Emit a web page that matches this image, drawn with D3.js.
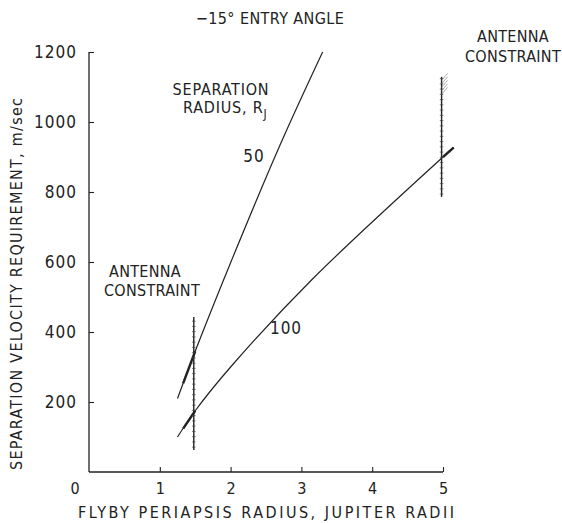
<!DOCTYPE html>
<html>
<head>
<meta charset="utf-8">
<script src="https://cdn.jsdelivr.net/npm/d3@7"></script>
<style>
  html, body { margin: 0; padding: 0; background: #fff; }
  svg { display: block; }
  text { font-family: "DejaVu Sans Condensed", "Liberation Sans Narrow", "Liberation Sans", sans-serif; fill: #222; }
</style>
</head>
<body>
<div id="chart"></div>
<script>
// Separation velocity vs. flyby periapsis radius, -15 deg entry angle
const xTicks = [1, 2, 3, 4, 5];
const yTicks = [200, 400, 600, 800, 1000, 1200];

// separation radius 50 R_J : [periapsis radius, velocity]
const curve50 = [[1.25, 210], [1.5, 345], [2.0, 598], [2.7, 935], [3.3, 1200]];
// separation radius 100 R_J
const curve100 = [[1.25, 100], [1.5, 175], [2.0, 300], [3.15, 550], [5.0, 900], [5.15, 927]];

// heavier portions of each curve near the antenna constraints
const heavy50 = [[1.33, 253], [1.5, 345]];
const heavy100 = [[1.33, 124], [1.5, 175]];
const heavy100b = [[5.0, 900], [5.15, 927]];

// antenna constraint bars: [periapsis radius, low velocity, high velocity]
const constraintLeft = [1.48, 63, 443];
const constraintRight = [4.98, 786, 1129];

const W = 562, H = 523;
const svg = d3.select("#chart").append("svg").attr("width", W).attr("height", H);

const x = d3.scaleLinear().domain([0, 5]).range([89, 443]);
const y = d3.scaleLinear().domain([0, 1200]).range([472, 52]);

const ink = "#222";

// axes
const yAxis = d3.axisLeft(y).tickValues(yTicks).tickSize(-5).tickPadding(12).tickFormat(d3.format("d"));
const gy = svg.append("g").attr("transform", `translate(${x(0)},0)`).call(yAxis);
gy.select(".domain").attr("d", `M0,${y(0)}V${y(1200)}`).attr("stroke", ink).attr("stroke-width", 1.3);
gy.selectAll(".tick line").attr("stroke", ink).attr("stroke-width", 1.1);
gy.selectAll(".tick text").attr("font-size", 17).attr("letter-spacing", 1).attr("fill", ink)
  .style("font-family", "'DejaVu Sans Condensed',sans-serif");

const xAxis = d3.axisBottom(x).tickValues(xTicks).tickSize(-5).tickPadding(11).tickFormat(d3.format("d"));
const gx = svg.append("g").attr("transform", `translate(0,${y(0)})`).call(xAxis);
gx.select(".domain").attr("d", `M${x(0)},0H${x(5)}`).attr("stroke", ink).attr("stroke-width", 1.3);
gx.selectAll(".tick line").attr("stroke", ink).attr("stroke-width", 1.1);
gx.selectAll(".tick text").attr("font-size", 16).attr("fill", ink)
  .style("font-family", "'DejaVu Sans Condensed',sans-serif");

// origin label sits left of the corner
svg.append("text").attr("x", x(0) - 14).attr("y", y(0) + 22).attr("text-anchor", "middle")
  .attr("font-size", 16).text("0");

// curves
const line = d3.line().x(d => x(d[0])).y(d => y(d[1])).curve(d3.curveCatmullRom.alpha(0.5));
svg.append("path").datum(curve50).attr("d", line).attr("fill", "none").attr("stroke", ink).attr("stroke-width", 1.2);
svg.append("path").datum(curve100).attr("d", line).attr("fill", "none").attr("stroke", ink).attr("stroke-width", 1.2);
[heavy50, heavy100, heavy100b].forEach(seg => {
  svg.append("path").datum(seg).attr("d", d3.line().x(d => x(d[0])).y(d => y(d[1])))
    .attr("fill", "none").attr("stroke", ink).attr("stroke-width", 2.4);
});

// antenna constraint bars with fine tick marks
function constraintBar(c, hatchTop) {
  const [cx, lo, hi] = c;
  const g = svg.append("g");
  g.append("line").attr("x1", x(cx)).attr("x2", x(cx)).attr("y1", y(lo)).attr("y2", y(hi))
    .attr("stroke", ink).attr("stroke-width", 1.4);
  const steps = d3.range(lo + 8, hi, 15);
  g.selectAll("line.t").data(steps).join("line").attr("class", "t")
    .attr("x1", x(cx) - 1.8).attr("x2", x(cx) + 1.8)
    .attr("y1", d => y(d)).attr("y2", d => y(d))
    .attr("stroke", "#444").attr("stroke-width", 0.7);
  if (hatchTop) {
    const hs = d3.range(hi - 50, hi, 10);
    g.selectAll("line.h").data(hs).join("line").attr("class", "h")
      .attr("x1", x(cx)).attr("y1", d => y(d))
      .attr("x2", x(cx) + 6).attr("y2", d => y(d) - 7)
      .attr("stroke", "#888").attr("stroke-width", 0.7);
  }
}
constraintBar(constraintLeft, false);
constraintBar(constraintRight, true);

// annotations
function label(tx, ty, s, anchor, size, spacing) {
  return svg.append("text").attr("x", tx).attr("y", ty).attr("text-anchor", anchor || "middle")
    .attr("font-size", size || 16).attr("letter-spacing", spacing == null ? 0.3 : spacing).text(s);
}
label(270, 24, "\u221215\u00B0 ENTRY ANGLE", "middle", 16, 0.4);
label(513, 42, "ANTENNA");
label(513, 62, "CONSTRAINT");
label(145, 277, "ANTENNA");
label(152, 296, "CONSTRAINT");
label(221, 95, "SEPARATION", "middle", 16, 0.8);
const rj = label(183, 113, "RADIUS, R", "start", 16, 0.8);
rj.append("tspan").attr("font-size", 12).attr("dy", 5).text("J");
label(254, 162, "50", "middle", 17, 1);
label(286, 334, "100", "middle", 17, 1);

// axis titles
label(266, 518, "FLYBY PERIAPSIS RADIUS, JUPITER RADII", "middle", 16, 0)
  .attr("textLength", 376).attr("lengthAdjust", "spacing");
svg.append("text").attr("transform", `translate(22,${284}) rotate(-90)`).attr("text-anchor", "middle")
  .attr("font-size", 16).attr("textLength", 372).attr("lengthAdjust", "spacing")
  .text("SEPARATION VELOCITY REQUIREMENT, m/sec");
</script>
</body>
</html>
